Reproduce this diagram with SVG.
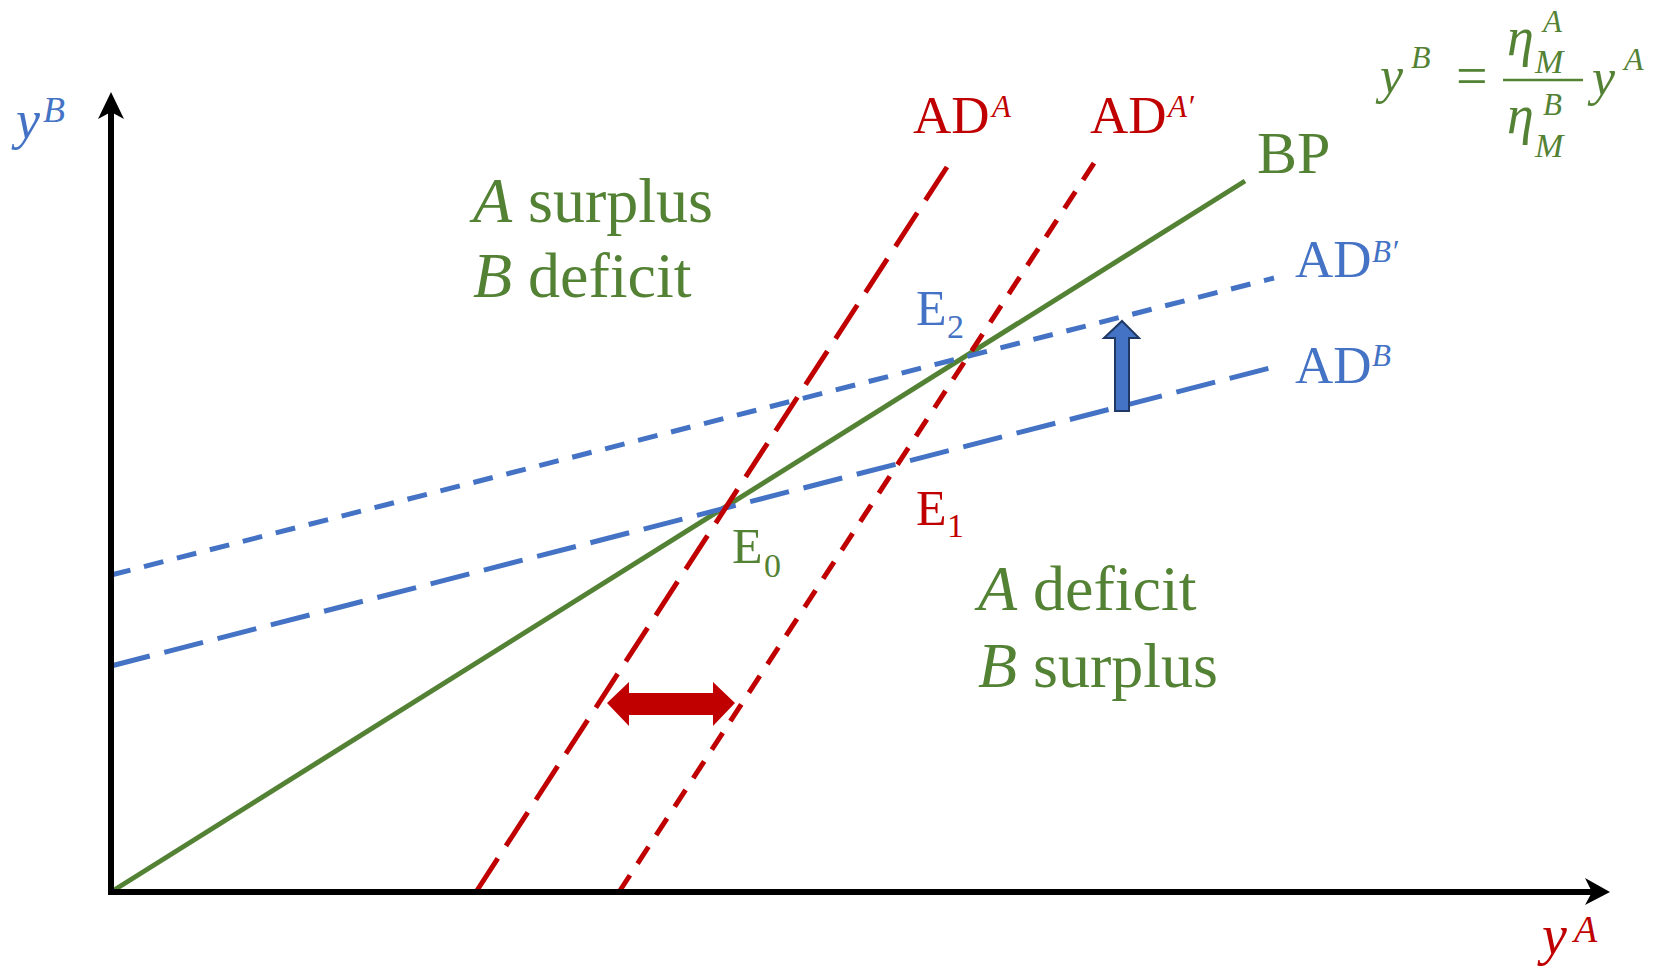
<svg xmlns="http://www.w3.org/2000/svg" width="1655" height="974" viewBox="0 0 1655 974">
<style>
.t{font-family:"Liberation Serif","Times New Roman",serif;}
.i{font-style:italic;}
.g{fill:#548235;}
.r{fill:#C00000;}
.b{fill:#4472C4;}
.ln{fill:none;stroke-width:5;stroke-linecap:butt;}
.long{stroke-dasharray:40 15;}
.short{stroke-dasharray:20 14;}
.axis{stroke:#000;stroke-width:6;fill:none;}
</style>
<rect width="1655" height="974" fill="#fff"/>
<g id="connectors">
  <line id="BP" x1="111" y1="892" x2="1245" y2="181" class="ln" stroke="#548235"/>
  <line id="ADB" x1="111" y1="666" x2="1274" y2="367" class="ln long" stroke="#4472C4"/>
  <line id="ADBp" x1="111" y1="575" x2="1274" y2="278" class="ln short" stroke="#4472C4"/>
  <line id="ADA" x1="476" y1="892" x2="947" y2="167" class="ln long" stroke="#C00000"/>
  <line id="ADAp" x1="619" y1="892" x2="1096" y2="160" class="ln short" stroke="#C00000"/>
</g>
<g id="axes">
  <line x1="111" y1="892" x2="111" y2="104" class="axis"/>
  <path d="M111,92 L124,119 L111,112 L98,119 Z" fill="#000"/>
  <line x1="108" y1="892" x2="1598" y2="892" class="axis"/>
  <path d="M1610,892 L1585,878 L1592,892 L1585,905 Z" fill="#000"/>
</g>
<g id="shift-arrows">
  <path id="red-double-arrow" d="M607,703 L629,682 L629,693 L713,693 L713,682 L735,703 L713,726 L713,715 L629,715 L629,726 Z" fill="#C00000"/>
  <path id="blue-up-arrow" d="M1122,321 L1139,338 L1129,338 L1129,411 L1115,411 L1115,338 L1104,338 Z" fill="#4472C4" stroke="#203864" stroke-width="2" stroke-linejoin="miter"/>
</g>
<g id="label-yB">
  <text class="t i b" font-size="54"><tspan x="16" y="138">y</tspan><tspan x="43" y="122" font-size="36">B</tspan></text>
</g>
<g id="label-yA">
  <text class="t i r" font-size="56"><tspan x="1542" y="954">y</tspan><tspan x="1574" y="942" font-size="38">A</tspan></text>
</g>
<g id="formula">
  <text class="t i g" font-size="52"><tspan x="1380" y="93">y</tspan><tspan x="1411" y="68" font-size="32">B</tspan></text>
  <text class="t g" font-size="56" x="1456" y="95">=</text>
  <line x1="1503" y1="80" x2="1583" y2="80" stroke="#548235" stroke-width="2.5"/>
  <text class="t i g" font-size="54"><tspan x="1507" y="55">η</tspan><tspan x="1543" y="32" font-size="31">A</tspan><tspan x="1535" y="73" font-size="34">M</tspan></text>
  <text class="t i g" font-size="54"><tspan x="1507" y="133">η</tspan><tspan x="1543" y="115" font-size="31">B</tspan><tspan x="1535" y="157" font-size="34">M</tspan></text>
  <text class="t i g" font-size="52"><tspan x="1592" y="95">y</tspan><tspan x="1624" y="70" font-size="32">A</tspan></text>
</g>
<g id="label-ADA">
  <text class="t r" font-size="53"><tspan x="913" y="133">AD</tspan><tspan class="i" x="992" y="117" font-size="31">A</tspan></text>
</g>
<g id="label-ADAp">
  <text class="t r" font-size="53"><tspan x="1090" y="133">AD</tspan><tspan class="i" x="1168" y="117" font-size="31">A′</tspan></text>
</g>
<g id="label-ADBp">
  <text class="t b" font-size="53"><tspan x="1295" y="277">AD</tspan><tspan class="i" x="1372" y="262" font-size="31">B′</tspan></text>
</g>
<g id="label-ADB">
  <text class="t b" font-size="53"><tspan x="1295" y="383">AD</tspan><tspan class="i" x="1372" y="366" font-size="31">B</tspan></text>
</g>
<g id="label-BP">
  <text class="t g" font-size="60" x="1257" y="173">BP</text>
</g>
<g id="label-E2">
  <text class="t b" font-size="50"><tspan x="916" y="325">E</tspan><tspan x="947" y="338" font-size="34">2</tspan></text>
</g>
<g id="label-E1">
  <text class="t r" font-size="50"><tspan x="916" y="525">E</tspan><tspan x="947" y="537" font-size="34">1</tspan></text>
</g>
<g id="label-E0">
  <text class="t g" font-size="50"><tspan x="732" y="563">E</tspan><tspan x="764" y="577" font-size="34">0</tspan></text>
</g>
<g id="region-upper">
  <text class="t g" font-size="64" x="473" y="222"><tspan class="i">A</tspan> surplus</text>
  <text class="t g" font-size="64" x="473" y="297"><tspan class="i">B</tspan> deficit</text>
</g>
<g id="region-lower">
  <text class="t g" font-size="64" x="978" y="610"><tspan class="i">A</tspan> deficit</text>
  <text class="t g" font-size="64" x="978" y="687"><tspan class="i">B</tspan> surplus</text>
</g>
</svg>
